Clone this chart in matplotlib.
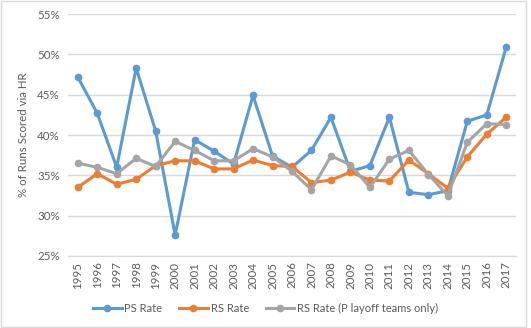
import matplotlib
matplotlib.use("Agg")
import matplotlib.pyplot as plt
from matplotlib.patches import Rectangle
from matplotlib.ticker import FuncFormatter, MultipleLocator

years = list(range(1995, 2018))
ps_rate = [47.2, 42.7, 36.0, 48.3, 40.5, 27.6, 39.4, 38.0, 36.4, 44.9, 37.4, 36.0,
           38.1, 42.2, 35.5, 36.2, 42.2, 32.9, 32.6, 33.1, 41.7, 42.5, 50.9]
rs_rate = [33.5, 35.2, 33.9, 34.5, 36.2, 36.8, 36.8, 35.8, 35.8, 36.9, 36.2, 36.1,
           34.1, 34.4, 35.4, 34.4, 34.3, 36.9, 35.2, 33.4, 37.3, 40.1, 42.2]
rs_playoff = [36.5, 36.0, 35.2, 37.1, 36.1, 39.2, 38.1, 36.8, 36.8, 38.3, 37.3, 35.5,
              33.2, 37.4, 36.3, 33.5, 37.0, 38.1, 35.1, 32.5, 39.1, 41.4, 41.3]
series_names = ["PS Rate", "RS Rate", "RS Rate (P layoff teams only)"]
colors = ["#5B9BD5", "#ED7D31", "#A5A5A5"]

plt.rcParams['font.family'] = ['Lato', 'DejaVu Sans']
fig = plt.figure(figsize=(5.31, 3.28), dpi=100)
ax = fig.add_axes([68/531, 1 - 256/328, (516-68)/531, (256-14)/328])

x = list(range(len(years)))
for vals, name, c in zip([ps_rate, rs_rate, rs_playoff], series_names, colors):
    ax.plot(x, vals, color=c, lw=2.2, marker='o', markersize=4.5, label=name,
            solid_joinstyle='round')

ax.set_ylim(25, 55)
ax.set_xlim(-0.5, len(years) - 0.5)
ax.yaxis.set_major_locator(MultipleLocator(5))
ax.yaxis.set_major_formatter(FuncFormatter(lambda v, p: f"{v:.0f}%"))
ax.set_xticks(x)
ax.set_xticklabels([str(y) for y in years], rotation=90)
ax.grid(axis='y', color='#D9D9D9', lw=1)
ax.set_axisbelow(True)
for s in ['top', 'right', 'left']:
    ax.spines[s].set_visible(False)
ax.spines['bottom'].set_color('#D9D9D9')
ax.tick_params(axis='both', length=0, labelsize=8.3, colors='#595959', pad=4)
ax.tick_params(axis='y', pad=6)
ax.set_ylabel("% of Runs Scored via HR", fontsize=8.3, color='#595959', labelpad=6)

leg = fig.legend(loc='center', bbox_to_anchor=(0.5, 1 - 308/328), ncol=3, frameon=False,
                 fontsize=8, handlelength=2.6, columnspacing=1.5, handletextpad=0.25)
for t in leg.get_texts():
    t.set_color('#595959')

fig.patches.append(Rectangle((1/531, 1/328), 525/531, 326/328, transform=fig.transFigure,
                             fill=False, edgecolor='#D9D9D9', lw=1))
fig.savefig("out.png", dpi=100)
